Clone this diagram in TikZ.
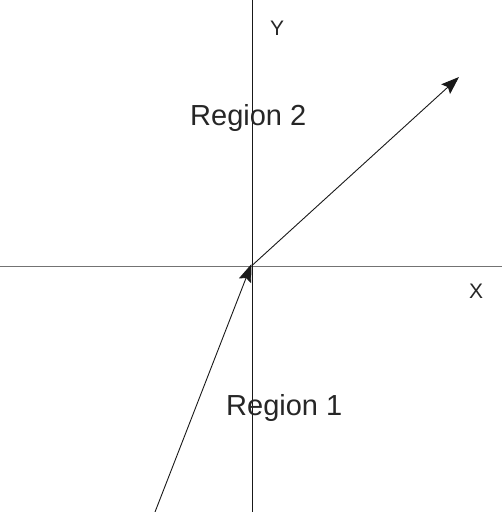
\documentclass[tikz,border=0pt]{standalone}
\usepackage{fontspec}
\setmainfont{Liberation Sans}
\usetikzlibrary{arrows.meta}
\begin{document}
\begin{tikzpicture}[x=1pt,y=-1pt,
  axisv/.style={draw=black!90,line width=1pt},
  axish/.style={draw=black!55,line width=1.5pt},
  vec/.style={draw=black!90,line width=0.9pt,-{Stealth[length=18pt,width=13pt,inset=3pt]}},
  lbl/.style={inner sep=0pt,anchor=base west,text=black!85},
  big/.style={font=\fontsize{29}{29}\selectfont},
  small/.style={font=\fontsize{21}{21}\selectfont}]
\useasboundingbox (0,0) rectangle (502,512);
\coordinate (ytop) at (252.5,0);
\coordinate (ybot) at (252.5,512);
\coordinate (xl) at (0,266.7);
\coordinate (xr) at (502,266.7);
\coordinate (o1) at (155,512);
\coordinate (o) at (251.5,264);
\coordinate (o2) at (252,265.5);
\coordinate (p) at (459,77);
\draw[axish] (xl) -- (xr);
\draw[axisv] (ytop) -- (ybot);
\draw[vec] (o1) -- (o);
\draw[vec] (o2) -- (p);
\node[lbl,small] (ylab) at (270,35) {Y};
\node[lbl,small] (xlab) at (469,298.5) {X};
\node[lbl,big] (r2) at (190,125) {Region 2};
\node[lbl,big] (r1) at (226,415) {Region 1};
\end{tikzpicture}
\end{document}
